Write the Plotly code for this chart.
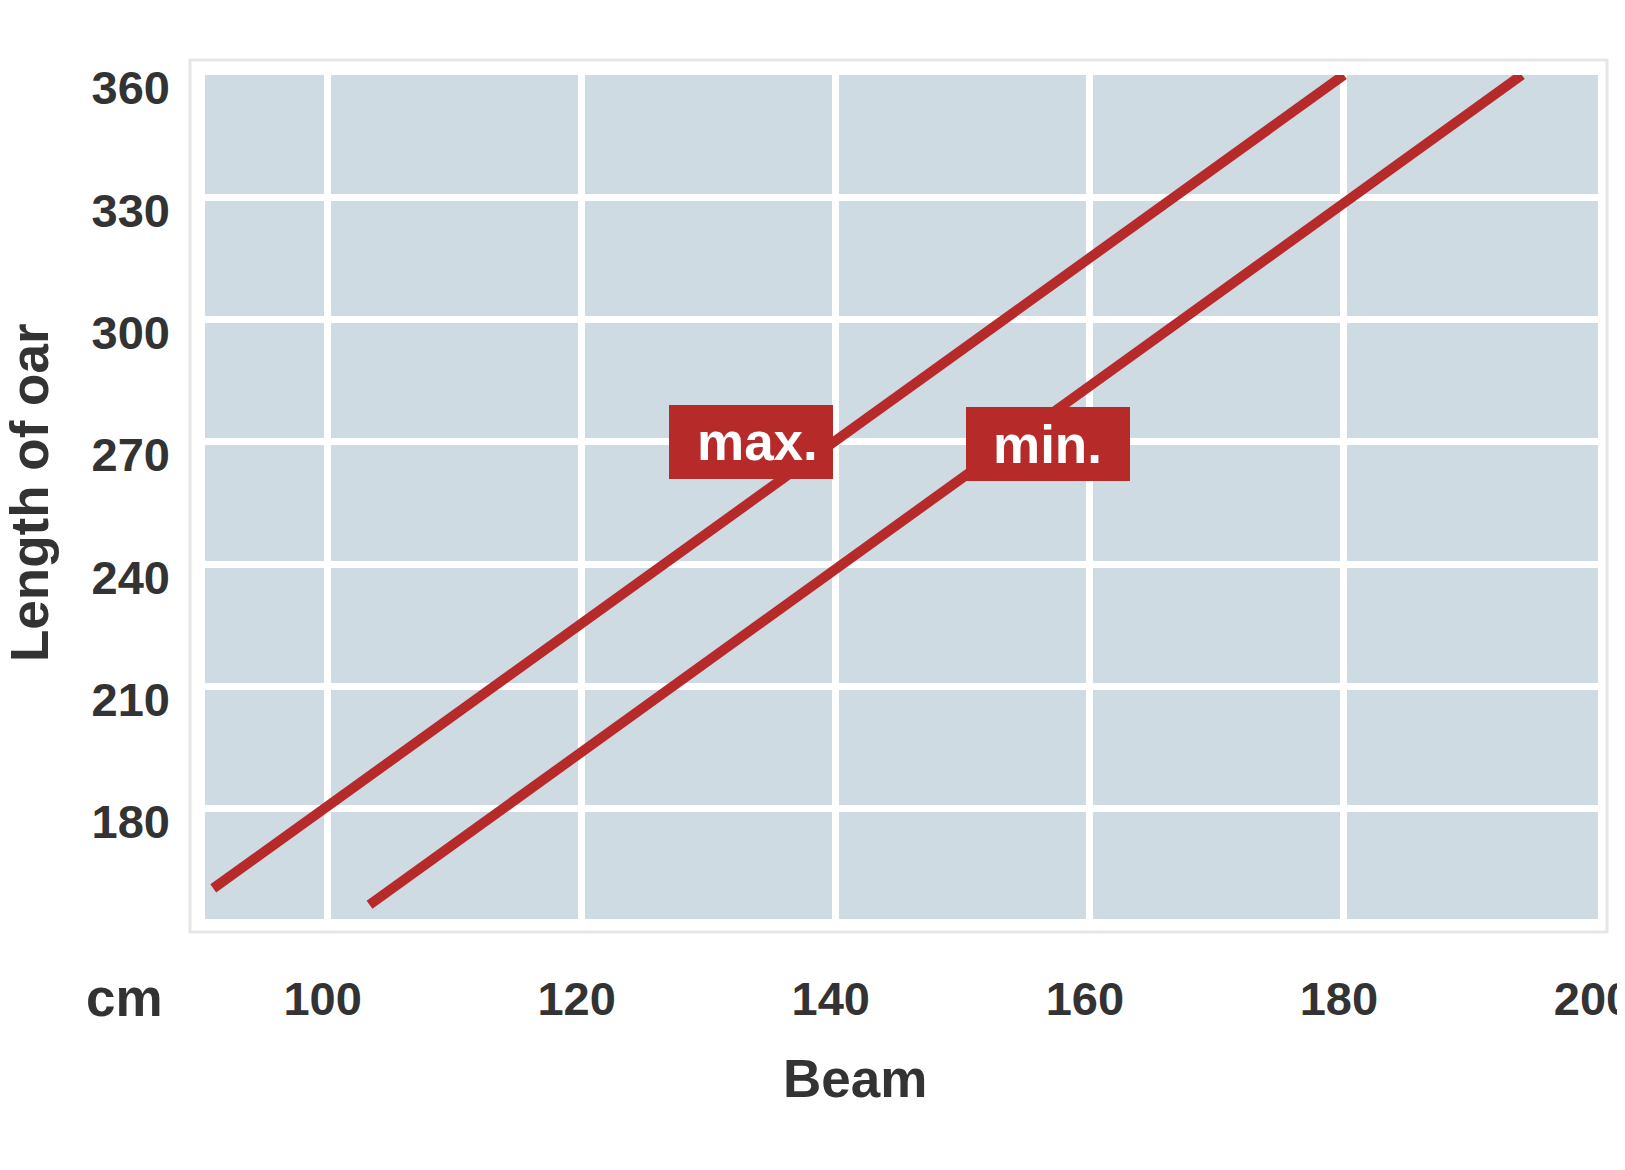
import plotly.graph_objects as go

# Data
beam_max = [91.0, 180.0]
oar_max = [160.5, 360.0]
beam_min = [103.3, 194.0]
oar_min = [156.5, 360.0]

x_ticks = [100, 120, 140, 160, 180, 200]
y_ticks = [180, 210, 240, 270, 300, 330, 360]

label_names = ["max.", "min."]
label_x = [133.3, 156.7]
label_y = [270.0, 269.5]
label_text_shift = [7, 0]

RED = "#b72a2a"
BG = "#cedbe3"
TXT = "#333333"
FONT = "Liberation Sans, Arial, sans-serif"

fig = go.Figure()
fig.add_trace(go.Scatter(x=beam_max, y=oar_max, mode="lines",
                         line=dict(color=RED, width=10), hoverinfo="skip"))
fig.add_trace(go.Scatter(x=beam_min, y=oar_min, mode="lines",
                         line=dict(color=RED, width=10), hoverinfo="skip"))

for name, lx, ly, sh in zip(label_names, label_x, label_y, label_text_shift):
    # red box
    fig.add_annotation(x=lx, y=ly, xref="x", yref="y", text=" ", showarrow=False,
                       bgcolor=RED, borderwidth=0, borderpad=0, width=164, height=74,
                       font=dict(family=FONT, size=53, color="white"))
    # white label text
    fig.add_annotation(x=lx, y=ly, xref="x", yref="y", text=name, showarrow=False,
                       xshift=sh, borderwidth=0, borderpad=0,
                       font=dict(family=FONT, size=53, color="white", weight="bold"))

# page has an 8px body margin: plot area spans page x 205..1598, y 75..919
PW = 1393.0
PH = 844.0

def px(xp):
    return (xp - 205) / PW

def py(yp):
    return (919 - yp) / PH

fig.add_annotation(x=px(30), y=py(493), xref="paper", yref="paper", text="Length of oar",
                   textangle=-90, showarrow=False, xanchor="center", yanchor="middle",
                   font=dict(family=FONT, size=53, color=TXT, weight="bold"))
fig.add_annotation(x=px(855), y=py(1078), xref="paper", yref="paper", text="Beam",
                   showarrow=False, xanchor="center", yanchor="middle",
                   font=dict(family=FONT, size=53, color=TXT, weight="bold"))
fig.add_annotation(x=px(124), y=py(997), xref="paper", yref="paper", text="cm",
                   showarrow=False, xanchor="center", yanchor="middle",
                   font=dict(family=FONT, size=53, color=TXT, weight="bold"))

fig.add_shape(type="rect", xref="x domain", yref="y domain",
              x0=px(190), x1=px(1607), y0=py(932), y1=py(60),
              line=dict(color="#e6e6e6", width=3), fillcolor="rgba(0,0,0,0)", layer="below")

fig.update_layout(
    template="none",
    width=1625, height=1170,
    margin=dict(l=197, r=35, t=67, b=259),
    paper_bgcolor="white",
    plot_bgcolor=BG,
    showlegend=False,
    xaxis=dict(range=[90.35, 200], tickvals=x_ticks, showgrid=True, gridcolor="white",
               gridwidth=7, zeroline=False, showline=False, ticks="", automargin=False,
               ticklabelstandoff=48, ticklabelshift=-5, ticklabeloverflow="allow",
               tickfont=dict(family=FONT, size=47, color=TXT, weight="bold")),
    yaxis=dict(range=[153, 360], tickvals=y_ticks, showgrid=True, gridcolor="white",
               gridwidth=7, zeroline=False, showline=False, ticks="", automargin=False,
               ticklabelstandoff=34, ticklabelshift=13, ticklabeloverflow="allow",
               tickfont=dict(family=FONT, size=47, color=TXT, weight="bold")),
)

fig.write_html("out.html")
